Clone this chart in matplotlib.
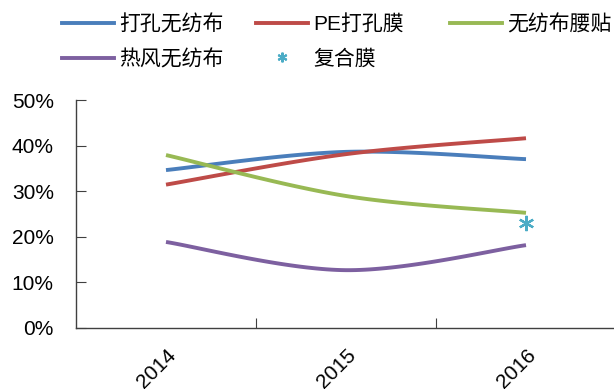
import numpy as np
import matplotlib
matplotlib.use("Agg")
import matplotlib.pyplot as plt
from matplotlib.lines import Line2D

plt.rcParams['font.family'] = ['Liberation Sans', 'Noto Sans CJK SC', 'DejaVu Sans']

years = ['2014', '2015', '2016']
series_names = ['打孔无纺布', 'PE打孔膜', '无纺布腰贴', '热风无纺布']
perforated_nonwoven = [34.6, 38.6, 37.0]
pe_film = [31.4, 38.1, 41.6]
nonwoven_waist = [37.9, 28.9, 25.2]
hot_air_nonwoven = [18.8, 12.6, 18.1]
composite_name = '复合膜'
composite_2016 = 22.9
series_values = [perforated_nonwoven, pe_film, nonwoven_waist, hot_air_nonwoven]
colors = ['#4A7EBB', '#BE4B48', '#98B954', '#7D60A0']
star_color = '#4BACC6'

W, H = 614, 389


def smooth(xs, ys, n=40):
    pts = np.column_stack([xs, ys]).astype(float)
    out = []
    m = len(pts)
    for i in range(m - 1):
        p0 = pts[i - 1] if i > 0 else pts[i]
        p1 = pts[i]
        p2 = pts[i + 1]
        p3 = pts[i + 2] if i + 2 < m else pts[i + 1]
        c1 = p1 + (p2 - p0) / 6.0
        c2 = p2 - (p3 - p1) / 6.0
        t = np.linspace(0, 1, n)[:, None]
        seg = ((1 - t) ** 3) * p1 + 3 * ((1 - t) ** 2) * t * c1 + 3 * (1 - t) * t ** 2 * c2 + t ** 3 * p2
        out.append(seg if i == 0 else seg[1:])
    s = np.vstack(out)
    return s[:, 0], s[:, 1]


fig = plt.figure(figsize=(W / 100, H / 100), dpi=100)
ax = fig.add_axes([76 / W, 61.5 / H, 540 / W, 227.5 / H])

x = np.arange(len(years))
handles = {}
for name, vals, c in zip(series_names, series_values, colors):
    sx, sy = smooth(x, vals)
    ax.plot(sx, sy, color=c, lw=2.8, solid_capstyle='butt')
    handles[name] = Line2D([0], [0], color=c, lw=2.8, label=name)

ax.plot([2], [composite_2016], linestyle='none', marker=(6, 2, 0), markersize=11,
        markeredgewidth=1.6, color=star_color)
handles[composite_name] = Line2D([0], [0], linestyle='none', marker=(6, 2, 0), markersize=7,
                                 markeredgewidth=1.5, color=star_color, label=composite_name)

ax.set_xlim(-0.5, 2.5)
ax.set_ylim(0, 50)
ax.set_yticks(np.arange(0, 51, 10))
ax.set_yticklabels([f'{v}%' for v in range(0, 51, 10)], fontsize=15)
ax.set_xticks([0.5, 1.5], minor=False)
ax.set_xticklabels([])
ax.set_xticks(x, minor=True)
ax.set_xticklabels(years, minor=True, rotation=45, ha='right', va='top',
                   rotation_mode='anchor', fontsize=15)
ax.tick_params(axis='x', which='minor', length=0, pad=13)
ax.tick_params(axis='x', which='major', direction='in', length=7, color='#404040')
ax.tick_params(axis='y', direction='in', length=7, color='#404040', pad=16)
for s in ['top', 'right']:
    ax.spines[s].set_visible(False)
for s in ['left', 'bottom']:
    ax.spines[s].set_color('#404040')
    ax.spines[s].set_linewidth(1.0)

legend_columns = [
    [series_names[0], series_names[3]],
    [series_names[1], composite_name],
    [series_names[2]],
]
col_x = [61.7, 256, 450]
for cx, names in zip(col_x, legend_columns):
    leg = fig.legend(handles=[handles[n] for n in names], loc='upper left',
                     bbox_to_anchor=(cx / W, 1 - 14 / H), frameon=False, fontsize=15,
                     handlelength=2.5, handletextpad=0.25, labelspacing=0.72,
                     borderpad=0, borderaxespad=0)

fig.savefig('out.png', dpi=100)
